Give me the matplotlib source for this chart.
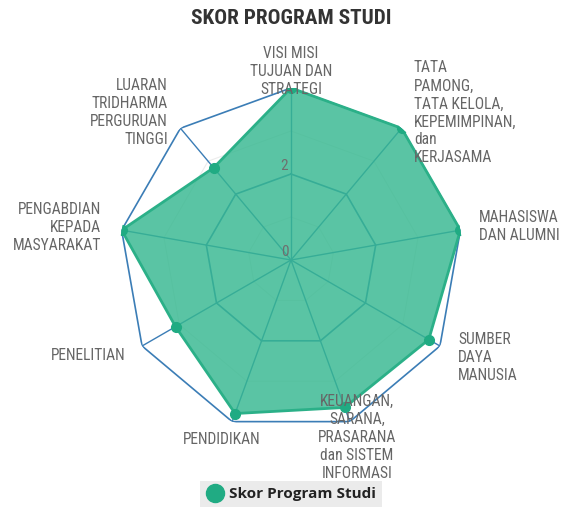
import numpy as np
import matplotlib
matplotlib.use('Agg')
import matplotlib.pyplot as plt
from matplotlib.lines import Line2D

# data
categories = [
    "VISI MISI\nTUJUAN DAN\nSTRATEGI",
    "TATA\nPAMONG,\nTATA KELOLA,\nKEPEMIMPINAN,\ndan\nKERJASAMA",
    "MAHASISWA\nDAN ALUMNI",
    "SUMBER\nDAYA\nMANUSIA",
    "KEUANGAN,\nSARANA,\nPRASARANA\ndan SISTEM\nINFORMASI",
    "PENDIDIKAN",
    "PENELITIAN",
    "PENGABDIAN\nKEPADA\nMASYARAKAT",
    "LUARAN\nTRIDHARMA\nPERGURUAN\nTINGGI",
]
scores = [4.0, 4.0, 4.0, 3.7, 3.65, 3.8, 3.1, 4.0, 2.8]
tick_values = [0, 2]
series_name = "Skor Program Studi"
title = "SKOR PROGRAM STUDI"

# label layout in pixels (x, y from top, ha, va)
label_pos = [
    (291, 97, 'center', 'bottom'),
    (414, 113, 'left', 'center'),
    (479, 226, 'left', 'center'),
    (458, 357, 'left', 'center'),
    (357, 394, 'center', 'top'),
    (222, 432, 'center', 'top'),
    (126, 355, 'right', 'center'),
    (101, 227, 'right', 'center'),
    (168, 112, 'right', 'center'),
]

FONT = ['Roboto Condensed', 'Roboto', 'DejaVu Sans']

W, H = 562, 508
fig = plt.figure(figsize=(W / 100, H / 100), dpi=100)
cx, cy, R = 291, 260, 172
ax = fig.add_axes([(cx - R) / W, (H - cy - R) / H, 2 * R / W, 2 * R / H], polar=True)
ax.set_theta_offset(np.pi / 2)
ax.set_theta_direction(-1)
ax.set_ylim(0, 4)
ax.axis('off')

n = len(categories)
theta = np.linspace(0, 2 * np.pi, n, endpoint=False)
theta_c = np.append(theta, theta[0])

grid_blue = '#3b7db6'
# faint inner rings
for r in [1, 3]:
    ax.plot(theta_c, [r] * (n + 1), color='#ececec', lw=0.8, zorder=1)
# main rings + spokes
for r in [2, 4]:
    ax.plot(theta_c, [r] * (n + 1), color=grid_blue, lw=1.2, zorder=2)
for t in theta:
    ax.plot([t, t], [0, 4], color=grid_blue, lw=1.0, zorder=2)

vals = np.append(scores, scores[0])
ax.fill(theta_c, vals, color='#36b890', alpha=0.82, zorder=3, lw=0)
ax.plot(theta_c, vals, color='#2bb088', lw=2, zorder=4)
ax.plot(theta, scores, 'o', color='#20ab83', ms=7, zorder=5)

for v in tick_values:
    ax.annotate(str(v), xy=(0, v), xytext=(-2, 1), textcoords='offset points',
                ha='right', va='bottom', fontsize=11, color='#6e6e6e', zorder=6,
                family=FONT)

for lab, (x, y, ha, va) in zip(categories, label_pos):
    fig.text(x / W, 1 - y / H, lab, ha=ha, va=va, multialignment=ha,
             fontsize=11.2, color='#666666', linespacing=1.25, family=FONT)

fig.text(291 / W, 1 - 19 / H, title, ha='center', va='center', fontsize=15.3,
         fontweight='bold', color='#333333', family=FONT)

handle = Line2D([], [], marker='o', color='#20ab83', lw=0, ms=13)
leg = fig.legend([handle], [series_name], loc='lower center', bbox_to_anchor=(291 / W, -0.014),
                 frameon=True, fancybox=False, facecolor='#ebebeb', edgecolor='none',
                 framealpha=1, handletextpad=0.3, borderpad=0.4, handlelength=1.2,
                 prop={'family': 'Open Sans', 'weight': 'bold', 'size': 11})
for t in leg.get_texts():
    t.set_color('#222222')

fig.savefig('out.png', dpi=100)
